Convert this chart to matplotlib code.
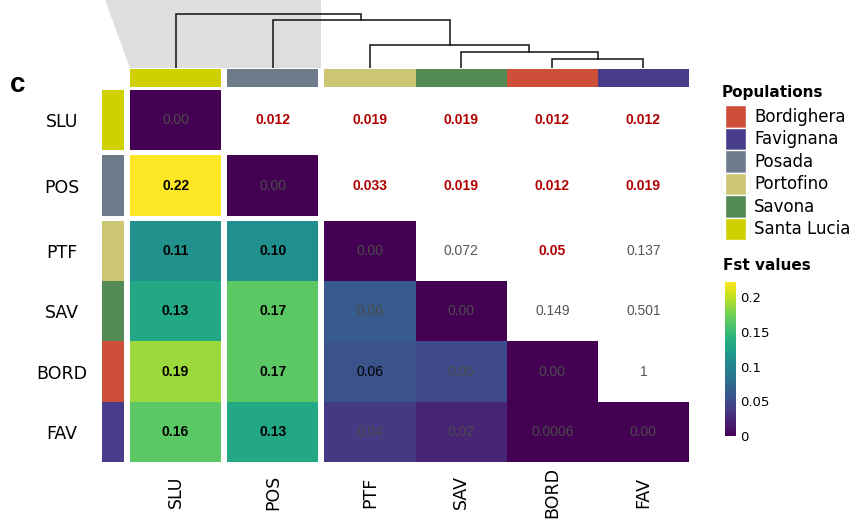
import numpy as np
import matplotlib
matplotlib.use("Agg")
import matplotlib.pyplot as plt
from matplotlib.patches import Rectangle, Polygon
from matplotlib import cm, colors

# populations, in heatmap order
codes = ["SLU", "POS", "PTF", "SAV", "BORD", "FAV"]
pop_colors = ["#d0cf00", "#6e7b8b", "#cdc673", "#548b54", "#cd4f39", "#483d8b"]
legend_names = ["Bordighera", "Favignana", "Posada", "Portofino", "Savona", "Santa Lucia"]
legend_colors = ["#cd4f39", "#483d8b", "#6e7b8b", "#cdc673", "#548b54", "#d0cf00"]

# Fst values (lower triangle, colour of the cells); nan = white cell
nan = np.nan
fst = np.array([
    [0.0,   nan,   nan,   nan,   nan,    nan],
    [0.222, 0.0,   nan,   nan,   nan,    nan],
    [0.111, 0.110, 0.0,   nan,   nan,    nan],
    [0.133, 0.166, 0.063, 0.0,   nan,    nan],
    [0.189, 0.166, 0.057, 0.050, 0.0,    nan],
    [0.165, 0.133, 0.038, 0.022, 0.0006, 0.0],
])

# printed numbers: Fst below the diagonal, p-values above it
cell_text = [
    ["0.00", "0.012", "0.019", "0.019", "0.012", "0.012"],
    ["0.22", "0.00", "0.033", "0.019", "0.012", "0.019"],
    ["0.11", "0.10", "0.00", "0.072", "0.05", "0.137"],
    ["0.13", "0.17", "0.06", "0.00", "0.149", "0.501"],
    ["0.19", "0.17", "0.06", "0.05", "0.00", "1"],
    ["0.16", "0.13", "0.04", "0.02", "0.0006", "0.00"],
]
# b = bold black, k = black, d = dim on dark, r = significant (red), g = not significant
cell_style = [
    "drrrrr",
    "bdrrrr",
    "bbdgrg",
    "bbddgg",
    "bbkddg",
    "bbdddd",
]

# dendrogram: merges (left, right, height); leaves 0..5, new clusters 6..
merges = [(4, 5, 9), (3, 6, 16), (2, 7, 23), (1, 8, 48), (0, 9, 54)]

cbar_ticks = [0, 0.05, 0.1, 0.15, 0.2]
cbar_ticklabels = ["0", "0.05", "0.1", "0.15", "0.2"]

W, H = 858, 528
fig = plt.figure(figsize=(W / 100, H / 100), dpi=100)


def px_rect(x0, y0, x1, y1):
    return [x0 / W, 1 - y1 / H, (x1 - x0) / W, (y1 - y0) / H]


n = len(codes)
gx, gy = 0.066, 0.083
col_left = np.arange(n) + gx * np.array([0, 1, 2, 2, 2, 2])
row_top = np.arange(n) + gy * np.array([0, 1, 2, 2, 2, 2])
xmax = col_left[-1] + 1
ymax = row_top[-1] + 1

norm = colors.Normalize(vmin=0, vmax=0.222)
cmap = cm.viridis

# heatmap
ax = fig.add_axes(px_rect(130, 90, 689, 462))
ax.set_xlim(0, xmax)
ax.set_ylim(ymax, 0)
text_fmt = {
    "b": dict(color="black", fontweight="bold"),
    "k": dict(color="black"),
    "d": dict(color="#4a4a4a"),
    "r": dict(color="#b00000", fontweight="bold"),
    "g": dict(color="#555555"),
}
for i in range(n):
    for j in range(n):
        v = fst[i, j]
        if not np.isnan(v):
            ax.add_patch(Rectangle((col_left[j], row_top[i]), 1, 1,
                                   facecolor=cmap(norm(v)), edgecolor="none"))
        ax.text(col_left[j] + 0.5, row_top[i] + 0.5, cell_text[i][j],
                ha="center", va="center", fontsize=10,
                family="Liberation Sans", **text_fmt[cell_style[i][j]])
ax.set_xticks(col_left + 0.5)
ax.set_xticklabels(codes, rotation=90, va="center", fontsize=12.5)
ax.tick_params(axis="x", length=0, pad=21.6)
ax.set_yticks([])
for s in ax.spines.values():
    s.set_visible(False)

# row annotation
ax_r = fig.add_axes(px_rect(102, 90, 124, 462))
ax_r.set_xlim(0, 1)
ax_r.set_ylim(ymax, 0)
for i in range(n):
    ax_r.add_patch(Rectangle((0, row_top[i]), 1, 1, facecolor=pop_colors[i], edgecolor="none"))
ax_r.set_yticks(row_top + 0.5)
ax_r.set_yticklabels(codes, ha="center", fontsize=12.5)
ax_r.tick_params(axis="y", length=0, pad=28.8)
ax_r.set_xticks([])
for s in ax_r.spines.values():
    s.set_visible(False)

# column annotation
ax_c = fig.add_axes(px_rect(130, 69, 689, 87))
ax_c.set_xlim(0, xmax)
ax_c.set_ylim(0, 1)
for j in range(n):
    ax_c.add_patch(Rectangle((col_left[j], 0), 1, 1, facecolor=pop_colors[j], edgecolor="none"))
ax_c.axis("off")

# dendrogram
ax_d = fig.add_axes(px_rect(130, 0, 689, 68))
ax_d.set_xlim(0, xmax)
ax_d.set_ylim(0, 68)
ax_d.axis("off")
shade_right = col_left[2] - gx / 2
ax_d.add_patch(Polygon([(-0.27, 68), (shade_right, 68), (shade_right, 0), (0, 0)],
                       closed=True, facecolor="#dedede", edgecolor="none",
                       clip_on=False, zorder=0))
xpos = list(col_left + 0.5)
hpos = [0.0] * n
for a, b, h in merges:
    ax_d.plot([xpos[a], xpos[a], xpos[b], xpos[b]], [hpos[a], h, h, hpos[b]],
              color="#111111", lw=1.1, solid_joinstyle="miter", zorder=2)
    xpos.append((xpos[a] + xpos[b]) / 2)
    hpos.append(h)

fig.text(10 / W, 1 - 85 / H, "c", fontsize=20, fontweight="bold",
         family="Liberation Sans", va="center", ha="left")

# population legend
fig.text(722 / W, 1 - 92 / H, "Populations", fontsize=11, fontweight="bold", va="center")
ax_l = fig.add_axes(px_rect(725, 105, 746, 240))
ax_l.set_xlim(0, 1)
ax_l.set_ylim(len(legend_names), 0)
ax_l.axis("off")
for k, (name, c) in enumerate(zip(legend_names, legend_colors)):
    ax_l.add_patch(Rectangle((0, k), 1, 1, facecolor=c, edgecolor="white", lw=1))
    ax_l.text(1.38, k + 0.52, name, fontsize=12, va="center", ha="left", clip_on=False)

# colour bar
fig.text(723 / W, 1 - 266 / H, "Fst values", fontsize=11, fontweight="bold", va="center")
cax = fig.add_axes(px_rect(725, 282, 736, 436))
cb = fig.colorbar(cm.ScalarMappable(norm=norm, cmap=cmap), cax=cax)
cb.outline.set_visible(False)
cb.set_ticks(cbar_ticks)
cb.set_ticklabels(cbar_ticklabels)
cax.tick_params(length=0, pad=3, labelsize=9.5)

fig.savefig("out.png", dpi=100)
